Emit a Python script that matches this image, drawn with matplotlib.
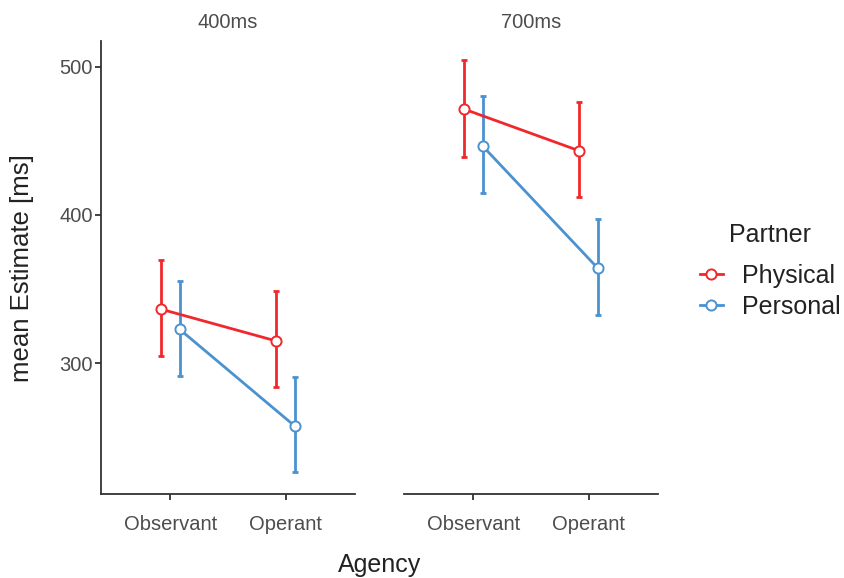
import numpy as np
import matplotlib
matplotlib.use("Agg")
import matplotlib.pyplot as plt
from matplotlib.lines import Line2D

plt.rcParams['font.family'] = ['Liberation Sans', 'DejaVu Sans']

# ---- data ----
agency = ["Observant", "Operant"]
durations = ["400ms", "700ms"]
partners = ["Physical", "Personal"]

phys_400_mean = [336.5, 315.0]
phys_400_lo = [305.2, 283.8]
phys_400_hi = [369.6, 348.6]
pers_400_mean = [323.0, 257.6]
pers_400_lo = [291.4, 226.6]
pers_400_hi = [355.4, 290.8]

phys_700_mean = [471.4, 443.2]
phys_700_lo = [439.0, 412.0]
phys_700_hi = [504.7, 476.1]
pers_700_mean = [446.6, 364.0]
pers_700_lo = [414.9, 332.4]
pers_700_hi = [480.4, 397.1]

y_ticks = [300, 400, 500]

colors = {"Physical": "#F0282C", "Personal": "#4A92D0"}

panels = {
    "400ms": {"Physical": (phys_400_mean, phys_400_lo, phys_400_hi),
              "Personal": (pers_400_mean, pers_400_lo, pers_400_hi)},
    "700ms": {"Physical": (phys_700_mean, phys_700_lo, phys_700_hi),
              "Personal": (pers_700_mean, pers_700_lo, pers_700_hi)},
}

W, H = 844, 578
fig = plt.figure(figsize=(W / 100, H / 100), dpi=100)

ax_top = 1 - 41 / H
ax_bot = 1 - 494.3 / H
ax_h = ax_top - ax_bot
lefts = [101 / W, 404 / W]
width = 254 / W

dodge = {"Physical": -0.08, "Personal": 0.08}
tick_col = "#4D4D4D"
axis_col = "#333333"

axes = []
for i, dur in enumerate(durations):
    ax = fig.add_axes([lefts[i], ax_bot, width, ax_h])
    axes.append(ax)
    xbase = np.arange(len(agency)) + 1
    for p in partners:
        m, lo, hi = panels[dur][p]
        m = np.array(m); lo = np.array(lo); hi = np.array(hi)
        xs = xbase + dodge[p]
        ax.errorbar(xs, m, yerr=[m - lo, hi - m], fmt='none', ecolor=colors[p],
                    elinewidth=2.0, capsize=2.2, capthick=2.0, zorder=2)
        ax.plot(xs, m, color=colors[p], lw=2.0, zorder=3,
                marker='o', markersize=7.3, markerfacecolor='white',
                markeredgecolor=colors[p], markeredgewidth=1.4)
    ax.set_xlim(0.4, 2.6)
    ax.set_ylim(211.7, 517.3)
    ax.set_xticks(xbase)
    ax.set_xticklabels(agency)
    ax.spines['top'].set_visible(False)
    ax.spines['right'].set_visible(False)
    ax.spines['bottom'].set_color(axis_col)
    ax.spines['bottom'].set_linewidth(1.3)
    ax.tick_params(axis='x', colors=axis_col, labelcolor=tick_col, labelsize=14.5,
                   length=4, width=1.3, pad=11)
    if i == 0:
        ax.set_yticks(y_ticks)
        ax.spines['left'].set_color(axis_col)
        ax.spines['left'].set_linewidth(1.3)
        ax.tick_params(axis='y', colors=axis_col, labelcolor=tick_col, labelsize=14.5,
                       length=4, width=1.3, pad=2)
    else:
        ax.spines['left'].set_visible(False)
        ax.set_yticks([])
    ax.set_title(dur, fontsize=14.5, color=tick_col, pad=9)

fig.text(380 / W, 1 - 565 / H, "Agency", fontsize=18, color="#222222",
         ha='center', va='center')
fig.text(22 / W, 1 - 268 / H, "mean Estimate [ms]", fontsize=18.5, color="#222222",
         ha='center', va='center', rotation=90)

# legend
fig.text(729 / W, 1 - 235 / H, "Partner", fontsize=18, color="#222222",
         ha='left', va='center')
handles = [Line2D([0], [0], color=colors[p], lw=2.0, marker='o', markersize=7.3,
                  markerfacecolor='white', markeredgecolor=colors[p],
                  markeredgewidth=1.4) for p in partners]
fig.legend(handles, partners, loc='upper left', bbox_to_anchor=(700 / W, 1 - 264 / H),
           frameon=False, fontsize=18, handlelength=0.9, handletextpad=0.8,
           labelspacing=0.28, borderpad=0, borderaxespad=0, labelcolor="#222222")

fig.savefig("out.png", dpi=100)
